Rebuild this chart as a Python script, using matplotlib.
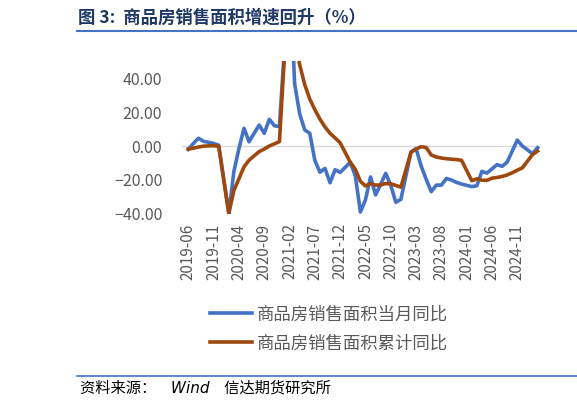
import numpy as np
import matplotlib
matplotlib.use('Agg')
import matplotlib.pyplot as plt
import pandas as pd
from matplotlib.lines import Line2D
from matplotlib.ticker import FuncFormatter

plt.rcParams['font.family'] = ['Noto Sans CJK SC', 'DejaVu Sans']

# months 2019-06 .. 2025-03 (January has no data, Jan-Feb reported together)
months = pd.period_range('2019-06', '2025-03', freq='M').strftime('%Y-%m').tolist()
nan = np.nan

# 商品房销售面积当月同比 (%)
monthly = [-2.0, 1.5, 4.6, 2.8, 2.2, 1.5, 0.5,
           nan, -39.9, -15.0, -1.5, 10.5, 2.5, 7.5, 12.4, 7.5, 15.8, 12.0, 11.5,
           nan, 104.9, 37.0, 19.0, 9.5, 7.5, -8.5, -15.5, -13.2, -21.7, -14.0, -15.6,
           nan, -9.6, -17.7, -39.0, -31.8, -18.3, -28.9, -22.6, -16.2, -23.2, -33.3, -31.5,
           nan, -3.6, -1.5, -11.8, -19.7, -27.0, -23.1, -23.1, -19.2, -20.1, -21.5, -22.5,
           nan, -24.0, -23.5, -15.0, -16.0, -13.5, -11.0, -12.0, -9.5, -3.0, 3.5, 0.0,
           nan, -4.5, -1.0]

# 商品房销售面积累计同比 (%)
cumulative = [-1.8, -1.3, -0.6, -0.1, 0.1, 0.2, -0.1,
              nan, -39.9, -26.3, -19.3, -12.3, -8.4, -5.8, -3.3, -1.8, 0.0, 1.3, 2.6,
              nan, 104.9, 63.8, 48.1, 36.3, 27.7, 21.5, 15.9, 11.3, 7.5, 4.8, 1.9,
              nan, -9.6, -13.8, -20.9, -23.6, -22.2, -23.1, -23.0, -22.2, -22.3, -23.3, -24.3,
              nan, -3.6, -1.8, -0.4, -0.9, -5.3, -6.5, -7.1, -7.5, -7.8, -8.0, -8.5,
              nan, -20.5, -19.4, -20.2, -20.3, -19.0, -18.6, -18.0, -17.1, -15.8, -14.3, -12.9,
              nan, -5.1, -3.0]

labels = ['商品房销售面积当月同比', '商品房销售面积累计同比']
colors = ['#4472C4', '#9E480E']

x = np.arange(len(months))
m = np.array(monthly)
c = np.array(cumulative)

fig = plt.figure(figsize=(5.77, 4.07), dpi=100)
ax = fig.add_axes([0.315, 0.475, 0.621, 0.374])

ok = ~np.isnan(m)
ax.plot(x[ok], m[ok], color=colors[0], lw=2.6, label=labels[0], solid_joinstyle='round')
ok = ~np.isnan(c)
ax.plot(x[ok], c[ok], color=colors[1], lw=2.6, label=labels[1], solid_joinstyle='round')
ax.axhline(0, color='#D9D9D9', lw=1, zorder=0)

ax.set_xlim(-1.3, 69.5)
ax.set_ylim(-40, 50)
ax.set_yticks([-40, -20, 0, 20, 40])
ax.yaxis.set_major_formatter(FuncFormatter(lambda v, p: ('%.2f' % v).replace('-', '\u2212')))
ax.set_xticks(x[::5])
ax.set_xticklabels(months[::5], rotation=90)
ax.tick_params(length=0, labelcolor='#595959')
ax.tick_params(axis='y', pad=14, labelsize=11.5)
ax.tick_params(axis='x', pad=7, labelsize=11)
for s in ax.spines.values():
    s.set_visible(False)

fig.legend(loc='upper left', bbox_to_anchor=(0.364, 0.25), frameon=False,
           fontsize=12.5, handlelength=2.4, handletextpad=0.3, labelspacing=0.65,
           borderpad=0, borderaxespad=0, labelcolor='#595959')

fig.text(0.135, 0.956, '图 3:  商品房销售面积增速回升（%）', fontsize=12.5,
         fontweight='bold', color='#1F3864', va='center')
fig.add_artist(Line2D([0.133, 1.0], [0.923, 0.923], color='#4472C4', lw=1.5))
fig.add_artist(Line2D([0.133, 1.0], [0.076, 0.076], color='#4472C4', lw=1.2))
fig.text(0.138, 0.046, '资料来源：   Wind   信达期货研究所', fontsize=11,
         style='italic', color='black', va='center',
         family=['DejaVu Sans', 'Noto Sans CJK SC'])

fig.savefig('out.png', dpi=100)
